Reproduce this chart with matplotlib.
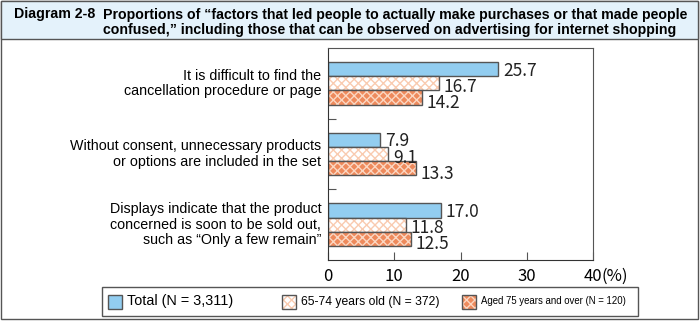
import matplotlib.pyplot as plt
from matplotlib.patches import Rectangle
import numpy as np

categories = [
    "It is difficult to find the\ncancellation procedure or page",
    "Without consent, unnecessary products\nor options are included in the set",
    "Displays indicate that the product\nconcerned is soon to be sold out,\nsuch as \u201cOnly a few remain\u201d",
]
total = [25.7, 7.9, 17.0]
age_65_74 = [16.7, 9.1, 11.8]
age_75_over = [14.2, 13.3, 12.5]
xticks = [0, 10, 20, 30, 40]
legend_labels = ["Total (N = 3,311)", "65-74 years old (N = 372)",
                 "Aged 75 years and over (N = 120)"]

W, H = 700, 321
plt.rcParams['hatch.linewidth'] = 1.0

fig = plt.figure(figsize=(7, 3.21), dpi=100)


def fx(x):
    return x / W


def fy(y):
    return 1 - y / H


# outer frame and title box
fig.add_artist(Rectangle((fx(1), fy(319)), fx(697), 318 / H, transform=fig.transFigure,
                         fill=False, edgecolor='#555555', lw=1))
fig.add_artist(Rectangle((fx(1), fy(39)), fx(697), 38 / H, transform=fig.transFigure,
                         facecolor='#e4f2fb', edgecolor='#555555', lw=1))
fig.text(fx(14), fy(14), "Diagram 2-8", fontsize=10.2, fontweight='bold',
         family='Liberation Sans', va='center', ha='left')
fig.text(fx(103), fy(22.5),
         "Proportions of \u201cfactors that led people to actually make purchases or that made people\n"
         "confused,\u201d including those that can be observed on advertising for internet shopping",
         fontsize=10.2, fontweight='bold', family='Liberation Sans', va='center', ha='left',
         linespacing=1.1)

ax = fig.add_axes([fx(328), fy(260), fx(593 - 328), (260 - 48) / H])

y = np.arange(len(categories))
h = 0.2
edge = '#555555'
series = [
    (total, -h, dict(facecolor='#92cdf0'), None, 0.02),
    (age_65_74, 0, dict(facecolor='#ffffff', hatch='xxxx'), '#f9cbb0', 0.05),
    (age_75_over, h, dict(facecolor='#ee8a5c', hatch='xxxx'), '#fbd7c2', 0.08),
]
for vals, off, style, hcol, toff in series:
    if hcol:
        ax.barh(y + off, vals, height=h, edgecolor=hcol, linewidth=0, **style)
        ax.barh(y + off, vals, height=h, fill=False, edgecolor=edge, linewidth=1)
    else:
        ax.barh(y + off, vals, height=h, edgecolor=edge, linewidth=1, **style)
    for yy, v in zip(y + off, vals):
        ax.text(v + 0.7, yy + toff, f"{v:.1f}", fontsize=12.5, family='Noto Sans CJK JP',
                va='center', ha='left', color='#222222')

ax.set_xlim(0, 40)
ax.set_ylim(2.5, -0.5)
ax.set_xticks(xticks)
ax.set_xticklabels([str(t) for t in xticks], fontsize=12, family='Noto Sans CJK JP')
ax.tick_params(axis='x', direction='in', length=6, color=edge, pad=6)
ax.set_yticks([0.5, 1.5])
ax.set_yticklabels([])
ax.tick_params(axis='y', direction='in', length=6, color=edge)
for s in ax.spines.values():
    s.set_color(edge)
ax.spines['left'].set_color('#333333')
ax.spines['bottom'].set_color('#333333')

ax.text(41.3, -0.075, "(%)", transform=ax.get_xaxis_transform(), fontsize=12,
        family='Noto Sans CJK JP', va='center', ha='left')

for yy, lab in zip(y, categories):
    ax.text(-1.0, yy, lab, fontsize=10.25, family='Liberation Sans', ha='right',
            va='center', linespacing=1.15)

# legend
fig.add_artist(Rectangle((fx(102), fy(316)), fx(536), 29 / H, transform=fig.transFigure,
                         fill=False, edgecolor='#555555', lw=1))
leg = [
    (108, legend_labels[0], 10.4, series[0]),
    (282, legend_labels[1], 8.75, series[1]),
    (462, legend_labels[2], 6.9, series[2]),
]
for px, lab, fs, (_, _, style, hcol, _) in leg:
    if hcol:
        fig.add_artist(Rectangle((fx(px), fy(309)), fx(14), 14 / H, transform=fig.transFigure,
                                 edgecolor=hcol, linewidth=0, **style))
        fig.add_artist(Rectangle((fx(px), fy(309)), fx(14), 14 / H, transform=fig.transFigure,
                                 fill=False, edgecolor=edge, linewidth=1))
    else:
        fig.add_artist(Rectangle((fx(px), fy(309)), fx(14), 14 / H, transform=fig.transFigure,
                                 edgecolor=edge, linewidth=1, **style))
    fig.text(fx(px + 19), fy(301.5), lab, fontsize=fs, family='Liberation Sans',
             va='center', ha='left')

fig.savefig("out.png", dpi=100)
